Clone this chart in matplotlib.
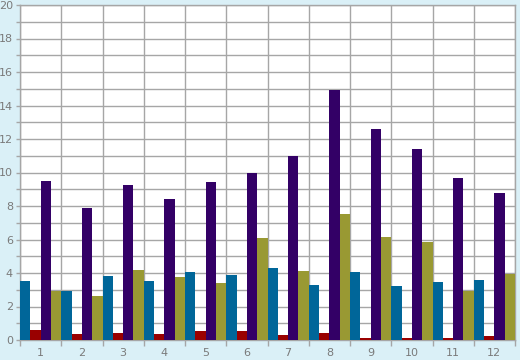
import numpy as np
import matplotlib.pyplot as plt
from matplotlib.ticker import MultipleLocator

months = ["1", "2", "3", "4", "5", "6", "7", "8", "9", "10", "11", "12"]
blue_vals = [3.5, 2.95, 3.8, 3.5, 4.04, 3.86, 4.27, 3.26, 4.04, 3.2, 3.44, 3.56]
red_vals = [0.58, 0.34, 0.42, 0.34, 0.52, 0.52, 0.28, 0.4, 0.1, 0.1, 0.1, 0.22]
purple_vals = [9.5, 7.9, 9.28, 8.39, 9.46, 10.0, 11.0, 14.95, 12.62, 11.43, 9.7, 8.75]
olive_vals = [2.9, 2.6, 4.2, 3.74, 3.38, 6.06, 4.1, 7.55, 6.12, 5.88, 2.9, 3.92]

series = [blue_vals, red_vals, purple_vals, olive_vals]
colors = ["#006699", "#990000", "#330066", "#999933"]

fig = plt.figure(figsize=(5.2, 3.6), dpi=100, facecolor="#daf0f7")
ax = fig.add_axes([20 / 520, 20 / 360, 495 / 520, 335 / 360])
ax.set_facecolor("white")

x = np.arange(len(months))
w = 0.25
for i, (vals, c) in enumerate(zip(series, colors)):
    ax.bar(x + (i - 1.5) * w, vals, width=w, color=c, zorder=3, linewidth=0)

ax.set_xlim(-0.5, len(months) - 0.5)
ax.set_ylim(0, 20)

grid_c = "#a6a6a6"
ax.set_xticks(x)
ax.set_xticklabels(months)
ax.set_xticks(np.arange(-0.5, len(months)), minor=True)
ax.yaxis.set_major_locator(MultipleLocator(2))
ax.yaxis.set_minor_locator(MultipleLocator(1))

ax.grid(which="minor", axis="x", color=grid_c, linewidth=1, zorder=0)
ax.grid(which="both", axis="y", color=grid_c, linewidth=1, zorder=0)

ax.tick_params(axis="x", which="major", length=0, pad=6, labelsize=8, labelcolor="#7a7a7a")
ax.tick_params(axis="x", which="minor", length=4, color=grid_c, width=1)
ax.tick_params(axis="y", which="both", length=3, color=grid_c, width=1, pad=2,
               labelsize=8, labelcolor="#7a7a7a")

for s in ax.spines.values():
    s.set_color(grid_c)
    s.set_linewidth(1)

fig.savefig("out.png", dpi=100, facecolor=fig.get_facecolor())
